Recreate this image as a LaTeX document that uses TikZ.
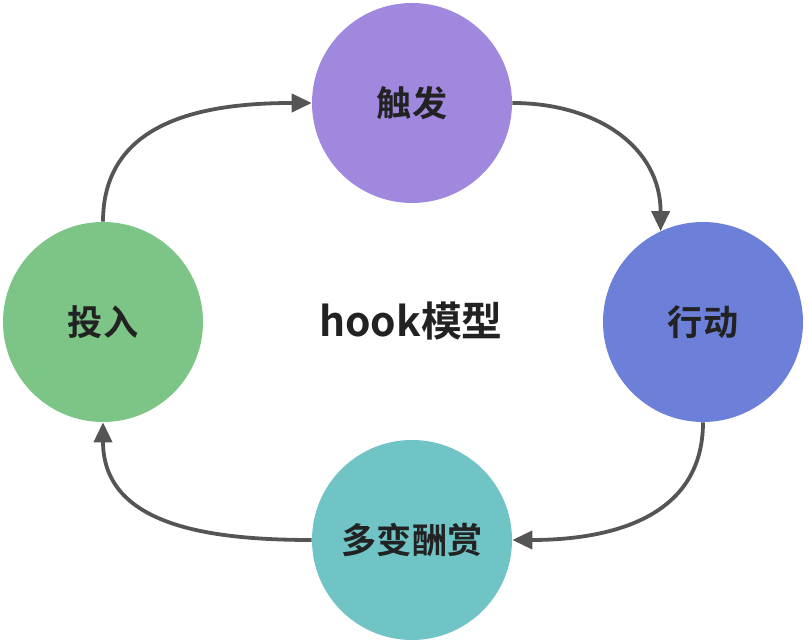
\documentclass[tikz,border=0pt]{standalone}
\usepackage{fontspec}
\usepackage{xcolor}
\usetikzlibrary{arrows.meta}
\newfontfamily\cjk{Noto Sans CJK SC Bold}
\definecolor{cTrig}{HTML}{A088DF}
\definecolor{cAct}{HTML}{6C7FD9}
\definecolor{cRew}{HTML}{70C4C5}
\definecolor{cInv}{HTML}{7CC586}
\definecolor{cArr}{HTML}{555555}
\definecolor{cTxt}{HTML}{222222}
\def\R{200}

\begin{document}
\begin{tikzpicture}[x=0.025cm, y=0.025cm,
    fase/.style={circle, minimum size=\R*0.025cm, inner sep=0pt,
      text=cTxt, font=\cjk\fontsize{25}{28}\selectfont},
    flecha/.style={draw=cArr, line width=2.7pt, looseness=1.1,
      -{Triangle[length=0.5cm, width=0.45cm]}}]
    % Marco
    \useasboundingbox (0,0) rectangle (810,642);

    % Fases del ciclo
    \node[fase, fill=cTrig] (trig) at (412,539) {触发};
    \node[fase, fill=cAct]  (act)  at (703,320) {行动};
    \node[fase, fill=cRew]  (rew)  at (412,102) {多变酬赏};
    \node[fase, fill=cInv]  (inv)  at (103,320) {投入};

    % Titulo
    \node[text=cTxt, font=\cjk\fontsize{29}{33}\selectfont] (title) at (411,321) {hook模型};

    % Flechas
    \draw[flecha] (inv.north) to[out=90, in=180] (trig.west);
    \draw[flecha] (trig.east) to[out=0, in=90] (act.115);
    \draw[flecha] (act.south) to[out=-90, in=0] (rew.east);
    \draw[flecha] (rew.west) to[out=180, in=-90] (inv.south);
\end{tikzpicture}
\end{document}
